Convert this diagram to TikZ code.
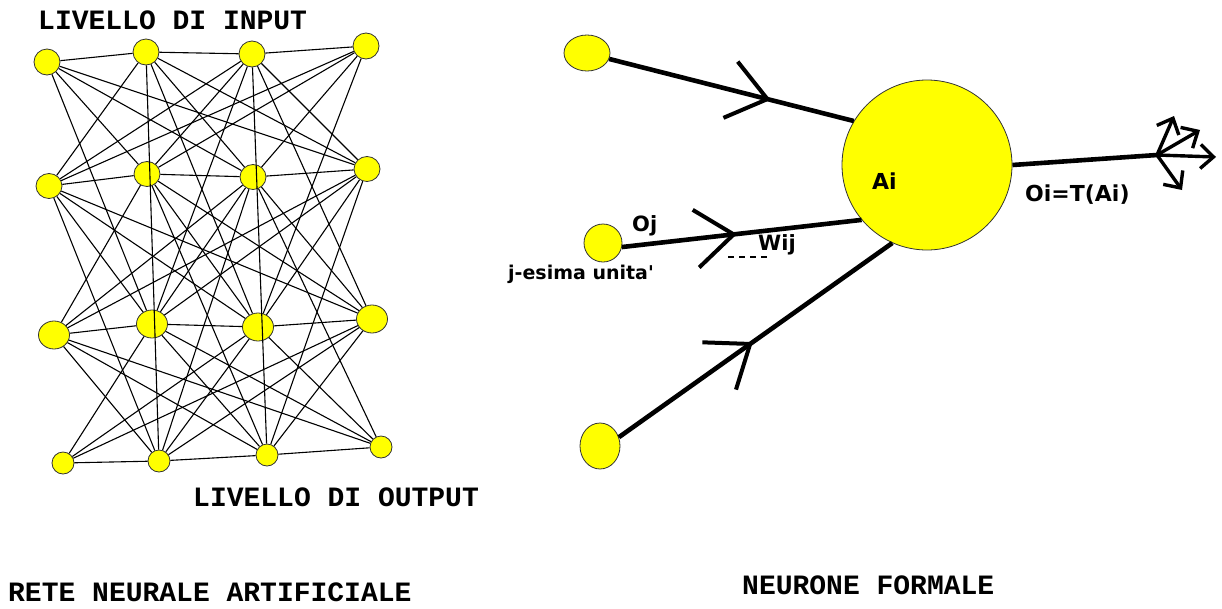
\documentclass[tikz,border=0pt]{standalone}
\usepackage{fontspec}
\setmainfont{DejaVu Sans}
\newfontfamily\labf{DejaVu Sans}
\newfontfamily\cour{Liberation Mono}
\usetikzlibrary{shapes.geometric,arrows.meta,decorations.markings}
\definecolor{yel}{RGB}{255,255,0}
\tikzset{
  neuron/.style={ellipse, draw=black!80, line width=0.8pt, fill=yel, inner sep=0pt},
  ra/.style={neuron, minimum width=26pt, minimum height=26pt},
  rb/.style={neuron, minimum width=26pt, minimum height=25pt},
  rc/.style={neuron, minimum width=31pt, minimum height=28pt},
  rd/.style={neuron, minimum width=22pt, minimum height=22pt},
  link/.style={draw=black, line width=1.1pt},
  heavy/.style={draw=black, line width=4.6pt},
  midbarb/.style={heavy, postaction={decorate}, decoration={markings,
      mark=at position #1 with {\arrow[line width=4pt]{Straight Barb[length=38pt,width=58pt]}}}},
  outarr/.style={draw=black, line width=3.4pt, -{Straight Barb[length=13pt,width=24pt]}},
  title/.style={font=\cour\bfseries\fontsize{28}{28}\selectfont, inner sep=0pt, anchor=base west},
  lab/.style={font=\labf\bfseries\fontsize{21}{21}\selectfont, inner sep=0pt, anchor=base west},
}
\begin{document}
\begin{tikzpicture}[x=1pt,y=-1pt]
\useasboundingbox (0,0) rectangle (1222,608);
% ---------- left network ----------
\node[ra] (a1) at (47,62) {};
\node[ra] (a2) at (146,52) {};
\node[ra] (a3) at (252,54) {};
\node[ra] (a4) at (366,46) {};
\node[rb] (b1) at (49,186) {};
\node[rb] (b2) at (147,174) {};
\node[rb] (b3) at (253,177) {};
\node[rb] (b4) at (367,169) {};
\node[rc] (c1) at (54,335) {};
\node[rc] (c2) at (152,324) {};
\node[rc] (c3) at (258,327) {};
\node[rc] (c4) at (372,319) {};
\node[rd] (d1) at (63,463) {};
\node[rd] (d2) at (159,461) {};
\node[rd] (d3) at (267,455) {};
\node[rd] (d4) at (381,447) {};
\foreach \r/\s in {a/b,b/c,c/d}{
  \foreach \i in {1,...,4}{
    \foreach \j in {1,...,4}{
      \ifnum\i=\j\relax\else \draw[link] (\r\i) -- (\s\j);\fi
    }}}
\foreach \r in {a,b,c,d}{
  \draw[link] (\r1) -- (\r2);
  \draw[link] (\r2) -- (\r3);
  \draw[link] (\r3) -- (\r4);
}
\foreach \p/\q in {a2/c3,a3/c2,a3/c4,a4/c3,a1/c2,b2/d3,b3/d2,b1/d2,b4/d3,b3/d4,a2/d2,a3/d3}{
  \draw[link] (\p) -- (\q);
}
\node[title] (tin) at (38,29) {LIVELLO DI INPUT};
\node[title] (tout) at (193,506) {LIVELLO DI OUTPUT};
\node[title] (trete) at (8,601) {RETE NEURALE ARTIFICIALE};
% ---------- formal neuron ----------
\node[neuron, minimum width=46pt, minimum height=36pt] (in1) at (587,53) {};
\node[neuron, minimum width=38pt, minimum height=38pt] (in2) at (603,243) {};
\node[neuron, minimum width=40pt, minimum height=46pt] (in3) at (600,446) {};
\node[neuron, minimum width=170pt, minimum height=170pt] (big) at (927,165) {};
\draw[midbarb=0.66] (in1.-15) -- (big.149);
\draw[midbarb=0.48] (in2.-12) -- (big.220);
\draw[midbarb=0.49] (in3.25) -- (big.246);
\coordinate (hub) at (1157,155);
\draw[heavy] (big.0) -- (hub);
\coordinate (o1) at (1174,116);
\coordinate (o2) at (1200,130);
\coordinate (o3) at (1216,157);
\coordinate (o4) at (1182,190);
\draw[outarr] (hub) -- (o1);
\draw[outarr] (hub) -- (o2);
\draw[outarr] (hub) -- (o3);
\draw[outarr] (hub) -- (o4);
\node[lab, font=\labf\bfseries\fontsize{22}{22}\selectfont] (ai) at (872,189) {Ai};
\node[lab, font=\labf\bfseries\fontsize{22}{22}\selectfont] (oi) at (1025,201) {Oi=T(Ai)};
\node[lab] (oj) at (632,231) {Oj};
\node[lab] (wij) at (758,250) {Wij};
\draw[line width=1.2pt, dash pattern=on 6pt off 5pt] (728,257) -- (767,257);
\node[lab, font=\labf\bfseries\fontsize{19}{19}\selectfont] (jes) at (508,279) {j-esima unita'};
\node[title] (tform) at (742,594) {NEURONE FORMALE};
\end{tikzpicture}
\end{document}
